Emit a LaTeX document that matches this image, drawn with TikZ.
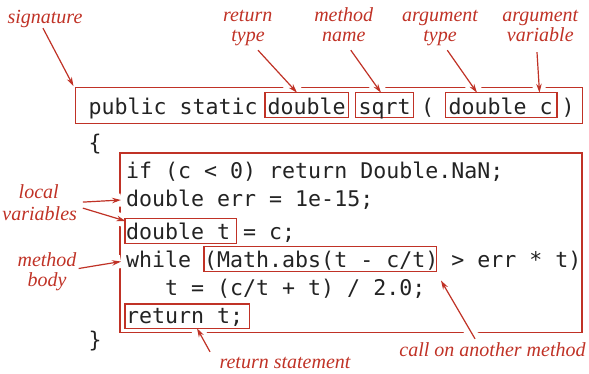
\documentclass[tikz,border=0pt]{standalone}
\usepackage{fontspec}
\newfontfamily\codefont{DejaVu Sans Mono}
\newfontfamily\labfont{Liberation Serif}
\usetikzlibrary{arrows.meta}
\definecolor{anno}{RGB}{192,50,38}
\definecolor{codecol}{RGB}{35,35,35}
\pgfdeclarelayer{back}
\pgfdeclarelayer{halo}
\pgfdeclarelayer{front}
\pgfsetlayers{back,halo,main,front}
\newcommand\annarrow[2]{%
  \begin{pgfonlayer}{halo}\draw[halostyle] #1 -- #2;\end{pgfonlayer}%
  \draw[callout] #1 -- #2;}
\begin{document}
\begin{tikzpicture}[x=1pt,y=-1pt,
  codetext/.style={font=\codefont\fontsize{21.6}{26}\selectfont, text=codecol, inner sep=0pt, anchor=base west},
  lab/.style={font=\labfont\itshape\fontsize{20}{24}\selectfont, text=anno, inner sep=1pt, anchor=base, text height=14pt, text depth=4pt},
  hbox/.style={rectangle, inner sep=0pt, outer sep=0pt, draw=none},
  boxline/.style={draw=anno, line width=1.2pt},
  callout/.style={draw=anno, line width=1.2pt, -{Stealth[length=9pt,width=5.5pt]}},
  halostyle/.style={draw=white, line width=13pt, shorten <=4pt}
]
\useasboundingbox (0,0) rectangle (589,373);

% box shapes (named)
\node[hbox, minimum width=507pt,   minimum height=36pt]    (sigbox)  at (329,105.7) {};
\node[hbox, minimum width=83.3pt,  minimum height=25pt]    (rettype) at (306.65,105.2) {};
\node[hbox, minimum width=57.6pt,  minimum height=25pt]    (mname)   at (384.5,105.2) {};
\node[hbox, minimum width=111.3pt, minimum height=25pt]    (argtype) at (501.35,105.2) {};
\node[hbox, minimum width=462pt,   minimum height=179.7pt] (body)    at (351,242.85) {};
\node[hbox, minimum width=111.7pt, minimum height=25pt]    (dbt)     at (180.85,230.8) {};
\node[hbox, minimum width=232.7pt, minimum height=25pt]    (mathb)   at (320.35,259) {};
\node[hbox, minimum width=124.3pt, minimum height=24.3pt]  (retb)    at (187.15,316.15) {};

\begin{pgfonlayer}{back}
  \draw[boxline] (sigbox.south west) rectangle (sigbox.north east);
  \draw[boxline] (body.south west) rectangle (body.north east);
\end{pgfonlayer}

\begin{pgfonlayer}{front}
  \draw[boxline] (rettype.south west) rectangle (rettype.north east);
  \draw[boxline] (mname.south west) rectangle (mname.north east);
  \draw[boxline] (argtype.south west) rectangle (argtype.north east);
  \draw[boxline] (dbt.south west) rectangle (dbt.north east);
  \draw[boxline] (mathb.south west) rectangle (mathb.north east);
  \draw[boxline] (retb.south west) rectangle (retb.north east);

  % code
  \node[codetext] (c1) at (88.5,114.5) {public static};
  \node[codetext] (c2) at (267.5,114.5) {double};
  \node[codetext] (c3) at (358.5,114.5) {sqrt};
  \node[codetext] (c4) at (421,114.5) {(};
  \node[codetext] (c5) at (448.5,114.5) {double c};
  \node[codetext] (c6) at (561.5,114.5) {)};
  \node[codetext] (ob) at (88.5,150.2) {\{};
  \node[codetext] (l1) at (126,178) {if (c < 0) return Double.NaN;};
  \node[codetext] (l2) at (126,206.5) {double err = 1e-15;};
  \node[codetext] (l3) at (126,239) {double t = c;};
  \node[codetext] (l4) at (126,267.5) {while (Math.abs(t - c/t) > err * t)};
  \node[codetext] (l5) at (165,295) {t = (c/t + t) / 2.0;};
  \node[codetext] (l6) at (126,323) {return t;};
  \node[codetext] (cb) at (88.5,347.5) {\}};

  % labels
  \node[lab] (siglab) at (45,23) {signature};
  \node[lab] (rt1) at (247.7,21) {return};
  \node[lab] (rt2) at (248,41.5) {type};
  \node[lab] (mn1) at (343.7,21) {method};
  \node[lab] (mn2) at (343.8,41.5) {name};
  \node[lab] (at1) at (440,21) {argument};
  \node[lab] (at2) at (440,41.5) {type};
  \node[lab] (av1) at (540.3,21) {argument};
  \node[lab] (av2) at (540.3,41.5) {variable};
  \node[lab] (lv1) at (38.7,198) {local};
  \node[lab] (lv2) at (39.7,220) {variables};
  \node[lab] (mb1) at (47,266.5) {method};
  \node[lab] (mb2) at (47,286) {body};
  \node[lab] (rs) at (285,368) {return statement};
  \node[lab] (ca) at (492.5,356) {call on another method};
\end{pgfonlayer}

% connectors
\annarrow{([xshift=-2pt]siglab.south)}{([xshift=-2pt,yshift=1.5pt]sigbox.north west)}
\annarrow{([xshift=10pt,yshift=-3.5pt]rt2.south)}{([xshift=-9.6pt]rettype.north)}
\annarrow{([xshift=7pt,yshift=-3.5pt]mn2.south)}{([xshift=-3.5pt]mname.north)}
\annarrow{([xshift=7.3pt,yshift=-3.5pt]at2.south)}{([xshift=-24.35pt]argtype.north)}
\annarrow{([xshift=-3.3pt,yshift=-5.5pt]av2.south)}{([xshift=38.15pt]argtype.north)}
\annarrow{([xshift=4.7pt,yshift=2.7pt]lv2.north east)}{([xshift=1pt,yshift=42.85pt]body.west)}
\annarrow{([xshift=4.7pt,yshift=-3.3pt]lv2.north east)}{([xshift=0.5pt,yshift=9.8pt]dbt.west)}
\annarrow{([xshift=1pt,yshift=-2pt]mb1.base east)}{([xshift=1pt,yshift=-18.65pt]body.west)}
\annarrow{([xshift=-75pt,yshift=1pt]rs.north)}{([xshift=9.85pt]retb.south)}
\annarrow{([xshift=-17.5pt,yshift=2pt]ca.north)}{([xshift=4.3pt,yshift=-9pt]mathb.south east)}
\end{tikzpicture}
\end{document}
